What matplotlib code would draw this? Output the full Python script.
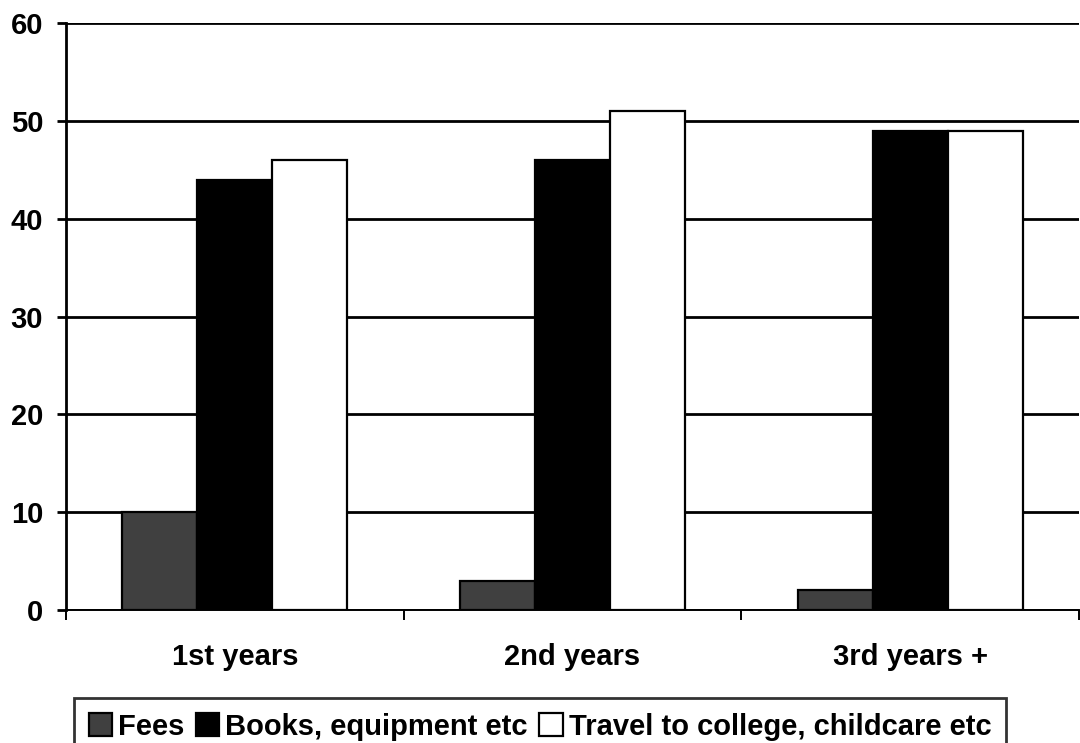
import numpy as np
import matplotlib
matplotlib.use("Agg")
import matplotlib.pyplot as plt

# cost categories by year of study
groups = ["1st years", "2nd years", "3rd years +"]
series = ["Fees", "Books, equipment etc", "Travel to college, childcare etc"]
fees = [10, 3, 2]
books = [44, 46, 49]
travel = [46, 51, 49]
colors = ["#404040", "#000000", "#ffffff"]

plt.rcParams['font.family'] = ['Liberation Sans', 'DejaVu Sans']
plt.rcParams['font.weight'] = 'bold'

fig = plt.figure(figsize=(10.8, 7.43), dpi=100)
ax = fig.add_axes([66/1080, 1-610/743, 1013/1080, 587/743])

x = np.arange(len(groups))
w = 1/4.5
for i, (vals, lab, c) in enumerate(zip([fees, books, travel], series, colors)):
    ax.bar(x + (i-1)*w, vals, w, color=c, edgecolor='black', linewidth=1.6,
           label=lab, zorder=3)

ax.set_xlim(-0.5, 2.5)
ax.set_ylim(0, 60)
ax.set_yticks(range(0, 61, 10))
ax.yaxis.grid(True, color='black', linewidth=2, zorder=0)
ax.set_axisbelow(True)

for s in ['top', 'right']:
    ax.spines[s].set_visible(False)
ax.spines['left'].set_linewidth(2)
ax.spines['bottom'].set_linewidth(1.4)

ax.set_xticks(x)
ax.set_xticklabels(groups, fontsize=21, fontweight='bold')
ax.tick_params(axis='x', which='major', length=0, pad=24)
ax.set_xticks([-0.5, 0.5, 1.5, 2.5], minor=True)
ax.tick_params(axis='x', which='minor', length=7, width=1.4, direction='out')
ax.tick_params(axis='y', labelsize=21, length=6.5, width=2, pad=10)
for t in ax.get_yticklabels():
    t.set_fontweight('bold')

leg = fig.legend(loc='upper center', bbox_to_anchor=(0.5, 1-698/743), ncol=3,
                 frameon=True, fancybox=False, edgecolor='black',
                 prop={'size': 21, 'weight': 'bold'}, handlelength=0.8,
                 handleheight=0.8, handletextpad=0.2, columnspacing=0.4,
                 borderpad=0.5, borderaxespad=0)
leg.get_frame().set_linewidth(2)

fig.savefig("out.png", dpi=100)
